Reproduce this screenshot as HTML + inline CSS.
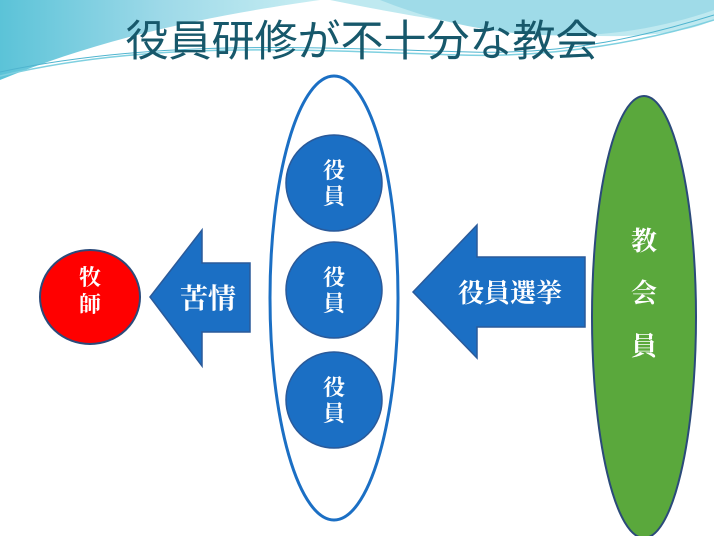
<!DOCTYPE html>
<html><head><meta charset="utf-8"><style>
html,body{margin:0;padding:0;width:714px;height:536px;overflow:hidden;background:#fff}
svg{display:block}
text{font-family:"Liberation Serif","Noto Serif CJK SC",serif}
</style></head><body>
<svg width="714" height="536" viewBox="0 0 714 536">
<defs>
<linearGradient id="g1" x1="0" y1="0" x2="1" y2="0">
<stop offset="0" stop-color="#5bc3d8"/><stop offset="0.5" stop-color="#9dd9e8"/><stop offset="1" stop-color="#c9eef3"/>
</linearGradient>
</defs>
<path d="M0,0 H320 C250,10 120,30 0,80 Z" fill="url(#g1)"/>
<path d="M330,0 H714 V20 C650,50 500,35 330,0 Z" fill="#bfe9f0"/>
<path d="M380,0 C480,40 600,50 714,10 V0 Z" fill="#9fdbe8"/>
<path d="M0,76 C150,40 300,50 460,55 C560,58 650,40 714,20" stroke="#7fd0e0" stroke-width="1.5" fill="none"/>
<path d="M0,72 C160,38 320,48 470,52 C570,55 650,35 714,15" stroke="#4fb4cf" stroke-width="1" fill="none"/>
<text x="362" y="56" font-size="43" fill="#17586b" text-anchor="middle" style="font-family:'Liberation Sans','Noto Sans CJK JP',sans-serif">役員研修が不十分な教会</text>

<ellipse cx="90" cy="297" rx="50" ry="47" fill="#f00" stroke="#2b4a7a" stroke-width="2"/>
<text x="90" y="285" font-size="22" fill="#fff" text-anchor="middle" font-weight="bold">牧</text>
<text x="90" y="312" font-size="22" fill="#fff" text-anchor="middle" font-weight="bold">師</text>

<polygon points="150,297 202,230 202,263 250,263 250,332 202,332 202,366" fill="#1b6fc4" stroke="#2a5a9a" stroke-width="1.5"/>
<text x="208" y="308" font-size="28" fill="#fff" text-anchor="middle" font-weight="bold">苦情</text>

<ellipse cx="334" cy="298" rx="64" ry="222" fill="#fff" stroke="#1b6fc4" stroke-width="3"/>
<g fill="#1b6fc4" stroke="#2a5a9a" stroke-width="1.5">
<circle cx="334" cy="183" r="48"/><circle cx="334" cy="290" r="48"/><circle cx="334" cy="400" r="48"/>
</g>
<g font-size="22" fill="#fff" text-anchor="middle" font-weight="bold">
<text x="334" y="178">役</text><text x="334" y="204">員</text>
<text x="334" y="285">役</text><text x="334" y="311">員</text>
<text x="334" y="395">役</text><text x="334" y="421">員</text>
</g>

<polygon points="413,292 477,225 477,257 585,257 585,327 477,327 477,358" fill="#1b6fc4" stroke="#2a5a9a" stroke-width="1.5"/>
<text x="510" y="302" font-size="26" fill="#fff" text-anchor="middle" font-weight="bold">役員選挙</text>

<ellipse cx="644" cy="317" rx="52" ry="221" fill="#5aa83c" stroke="#2b4a7a" stroke-width="2"/>
<g font-size="26" fill="#fff" text-anchor="middle" font-weight="bold">
<text x="644" y="250">教</text><text x="644" y="302">会</text><text x="644" y="355">員</text>
</g>
</svg>
</body></html>
